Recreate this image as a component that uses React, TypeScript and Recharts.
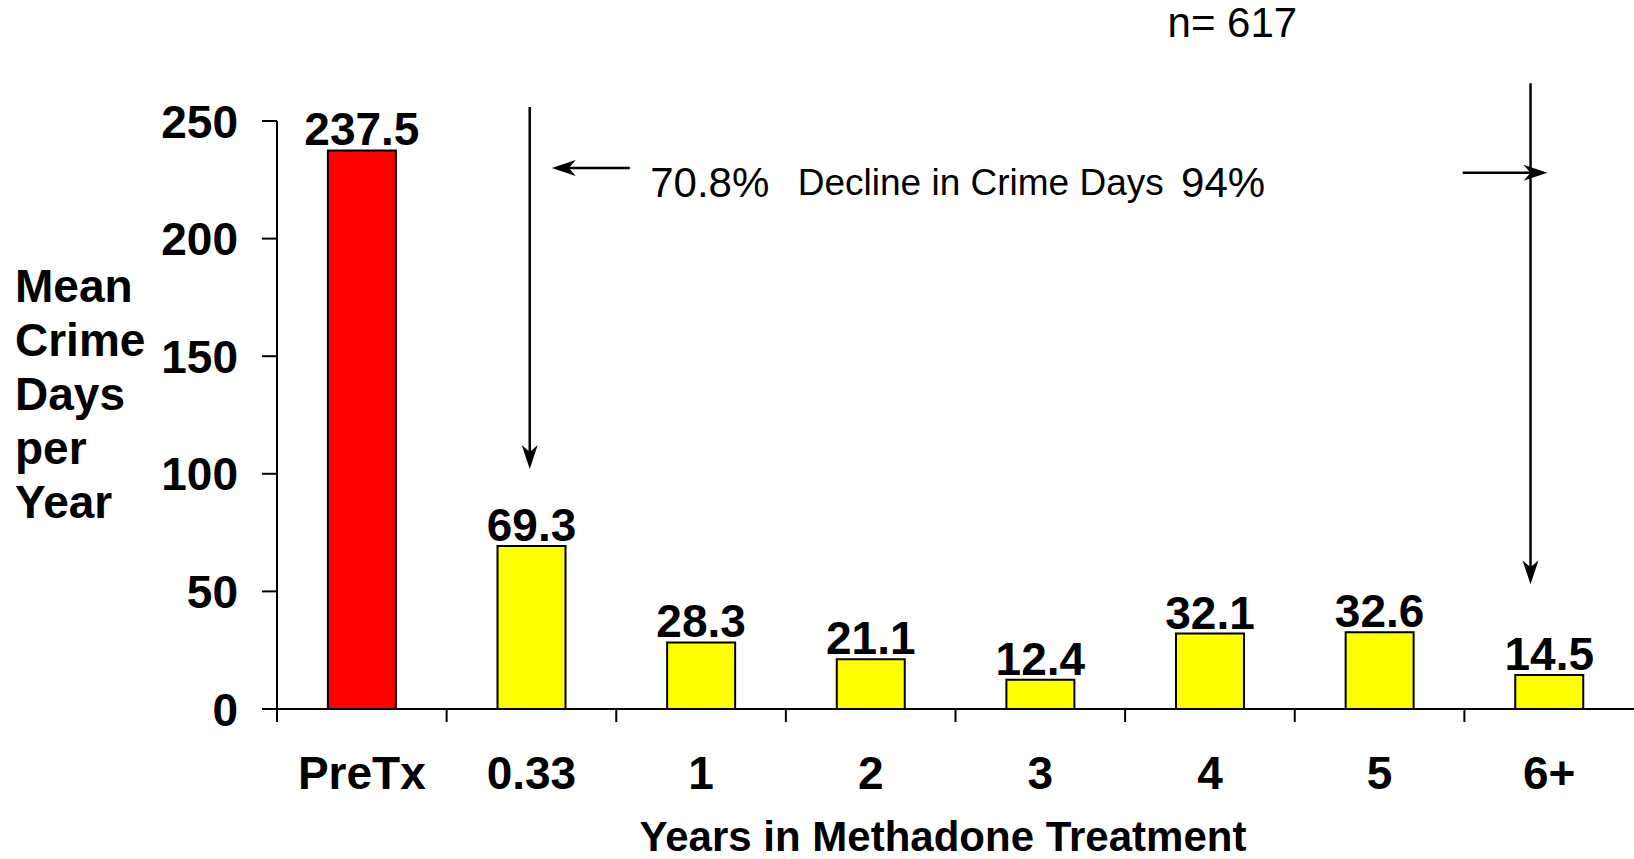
import React from 'react';
import { BarChart, Bar, XAxis, YAxis, Cell, LabelList, ReferenceLine, ReferenceDot } from 'recharts';

const categories = ['PreTx', '0.33', '1', '2', '3', '4', '5', '6+'];
const meanCrimeDays = [237.5, 69.3, 28.3, 21.1, 12.4, 32.1, 32.6, 14.5];
const barFills = ['#FF0000', '#FFFF00', '#FFFF00', '#FFFF00', '#FFFF00', '#FFFF00', '#FFFF00', '#FFFF00'];
const yTicks = [0, 50, 100, 150, 200, 250];
const yAxisTitleLines = ['Mean', 'Crime', 'Days', 'per', 'Year'];
const xAxisTitle = 'Years in Methadone Treatment';

// annotation anchors in data units (x on a continuous 0..8 scale spanning the 8 categories)
const firstArrowDown = [{ x: 1.49, y: 256 }, { x: 1.49, y: 102 }];
const firstArrowLeft = [{ x: 2.08, y: 230 }, { x: 1.62, y: 230 }];
const lastArrowDown = [{ x: 7.39, y: 266 }, { x: 7.39, y: 53 }];
const lastArrowRight = [{ x: 6.99, y: 228 }, { x: 7.49, y: 228 }];
const annotationTexts = ['70.8%', 'Decline in Crime Days', '94%', 'n= 617'];
const annotationX = [2.2, 3.07, 5.33, 5.25];
const annotationY = [224, 224, 224, 292];

const data = categories.map((c, i) => ({ category: c, value: meanCrimeDays[i] }));

const W = 1634;
const H = 859;
const FONT = '"Liberation Sans", Arial, Helvetica, sans-serif';
const annotationSizes = [42, 37, 42, 42];

const slotOf = (d: any) => categories.indexOf(d.category) + 0.5;

const ArrowShape = (props: any) => {
  const { x1, y1, x2, y2 } = props;
  const dx = x2 - x1;
  const dy = y2 - y1;
  const len = Math.hypot(dx, dy) || 1;
  const ux = dx / len;
  const uy = dy / len;
  const L = 24;
  const hw = 8;
  const notch = 7;
  const bx = x2 - ux * L;
  const by = y2 - uy * L;
  const nx = -uy;
  const ny = ux;
  const mx = x2 - ux * (L - notch);
  const my = y2 - uy * (L - notch);
  const d = `M${x2},${y2} L${bx + nx * hw},${by + ny * hw} L${mx},${my} L${bx - nx * hw},${by - ny * hw} Z`;
  return (
    <g>
      <line x1={x1} y1={y1} x2={mx} y2={my} stroke="#000" strokeWidth={2.5} />
      <path d={d} fill="#000" stroke="none" />
    </g>
  );
};

const AnnotationText = (props: any) => {
  const { viewBox, text, size } = props;
  if (!viewBox) return null;
  return (
    <text x={viewBox.x} y={viewBox.y} dy="0.35em" fontSize={size} fontFamily={FONT} fill="#000">
      {text}
    </text>
  );
};

const YTick = (props: any) => {
  const { y, payload } = props;
  return (
    <text x={238} y={y} dy="0.36em" textAnchor="end" fontSize={46} fontWeight="bold" fontFamily={FONT} fill="#000">
      {payload.value}
    </text>
  );
};

const XTick = (props: any) => {
  const { x, y, payload } = props;
  const half = payload && payload.offset ? payload.offset : 0;
  return (
    <g>
      <line x1={x - half} x2={x - half} y1={y} y2={y + 13} stroke="#000" strokeWidth={2} />
      <text x={x} y={y + 80} textAnchor="middle" fontSize={46} fontWeight="bold" fontFamily={FONT} fill="#000">
        {payload.value}
      </text>
    </g>
  );
};

const YTitle = () => (
  <text x={15} y={302} fontSize={46} fontWeight="bold" fontFamily={FONT} fill="#000">
    {yAxisTitleLines.map((line, i) => (
      <tspan key={line} x={15} y={302 + i * 54}>
        {line}
      </tspan>
    ))}
  </text>
);

const XTitle = () => (
  <text x={943} y={851} textAnchor="middle" fontSize={42} fontWeight="bold" fontFamily={FONT} fill="#000">
    {xAxisTitle}
  </text>
);

const BarLabel = (props: any) => {
  const { x, y, width, value } = props;
  return (
    <text x={x + width / 2} y={y - 5} textAnchor="middle" fontSize={46} fontWeight="bold" fontFamily={FONT} fill="#000">
      {value}
    </text>
  );
};

export default function App() {
  return (
    <div style={{ position: 'absolute', left: 0, top: 0, width: W, height: H, background: '#fff' }}>
      <BarChart
        width={W}
        height={H}
        data={data}
        margin={{ top: 121, right: 0, left: 0, bottom: 0 }}
        barCategoryGap="30%"
      >
        <XAxis
          xAxisId="cat"
          dataKey="category"
          type="category"
          height={150}
          tickLine={false}
          tickSize={0}
          tickMargin={0}
          axisLine={{ stroke: '#000', strokeWidth: 2 }}
          tick={<XTick />}
          interval={0}
          label={<XTitle />}
        />
        <XAxis xAxisId="num" type="number" dataKey={slotOf} domain={[0, 8]} allowDataOverflow hide />
        <YAxis
          domain={[0, 250]}
          ticks={yTicks}
          width={277}
          tickSize={15}
          tickLine={{ stroke: '#000', strokeWidth: 2 }}
          axisLine={{ stroke: '#000', strokeWidth: 2 }}
          tick={<YTick />}
          interval={0}
          label={<YTitle />}
        />
        <Bar dataKey="value" xAxisId="cat" stroke="#000" strokeWidth={2} isAnimationActive={false}>
          {data.map((d, i) => (
            <Cell key={d.category} fill={barFills[i]} />
          ))}
          <LabelList dataKey="value" content={<BarLabel />} />
        </Bar>
        <ReferenceLine xAxisId="num" segment={firstArrowDown} ifOverflow="visible" shape={ArrowShape} />
        <ReferenceLine xAxisId="num" segment={firstArrowLeft} ifOverflow="visible" shape={ArrowShape} />
        <ReferenceLine xAxisId="num" segment={lastArrowDown} ifOverflow="visible" shape={ArrowShape} />
        <ReferenceLine xAxisId="num" segment={lastArrowRight} ifOverflow="visible" shape={ArrowShape} />
        {annotationTexts.map((t, i) => (
          <ReferenceDot
            key={t}
            xAxisId="num"
            x={annotationX[i]}
            y={annotationY[i]}
            r={0}
            fill="none"
            stroke="none"
            ifOverflow="visible"
            label={<AnnotationText text={t} size={annotationSizes[i]} />}
          />
        ))}
      </BarChart>
    </div>
  );
}
